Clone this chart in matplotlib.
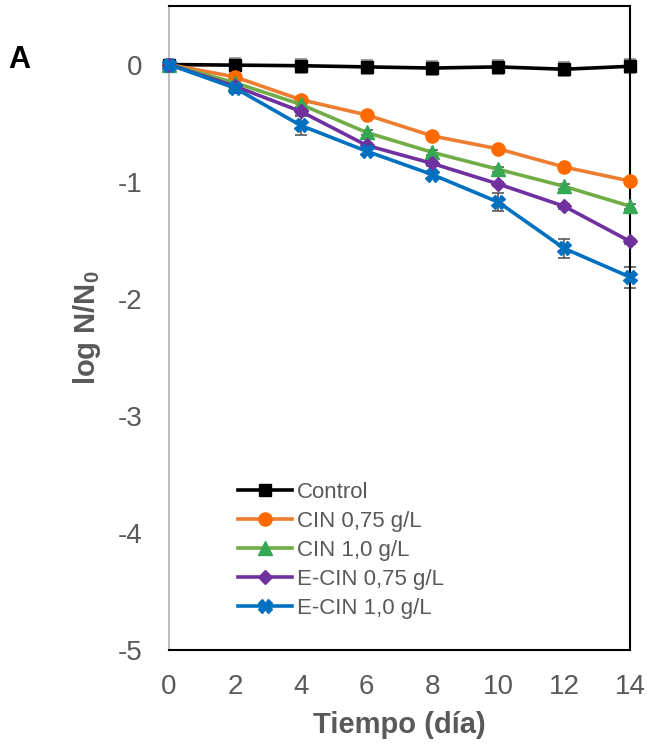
#! -*- coding: utf-8 -*-
import numpy as np
import matplotlib
matplotlib.use('Agg')
import matplotlib.pyplot as plt

#---------------------------------
# データ
#---------------------------------
dias = [0, 2, 4, 6, 8, 10, 12, 14]

control = [0, -0.005, -0.01, -0.02, -0.03, -0.02, -0.04, -0.015]
cin_075 = [0, -0.105, -0.30, -0.43, -0.61, -0.72, -0.875, -0.995]
cin_10 = [0, -0.155, -0.34, -0.58, -0.75, -0.895, -1.04, -1.21]
ecin_075 = [0, -0.185, -0.40, -0.69, -0.845, -1.02, -1.21, -1.51]
ecin_10 = [0, -0.20, -0.52, -0.74, -0.94, -1.175, -1.57, -1.815]

err_control = [0, 0.06, 0.06, 0.06, 0.06, 0.06, 0.06, 0.06]
err_cin_075 = [0, 0.02, 0.02, 0.02, 0.02, 0.02, 0.02, 0.02]
err_cin_10 = [0, 0.02, 0.02, 0.02, 0.02, 0.02, 0.02, 0.02]
err_ecin_075 = [0, 0.03, 0.03, 0.02, 0.02, 0.02, 0.02, 0.02]
err_ecin_10 = [0, 0.04, 0.08, 0.03, 0.03, 0.08, 0.08, 0.09]

etiquetas = ['Control', 'CIN 0,75 g/L', 'CIN 1,0 g/L', 'E-CIN 0,75 g/L', 'E-CIN 1,0 g/L']

#---------------------------------
# 設定
#---------------------------------
plt.rcParams['font.family'] = ['Liberation Sans', 'DejaVu Sans']
plt.rcParams['axes.unicode_minus'] = False
plt.rcParams['mathtext.fontset'] = 'custom'
plt.rcParams['mathtext.rm'] = 'Liberation Sans'
plt.rcParams['mathtext.bf'] = 'Liberation Sans:bold'

gris = '#595959'

fig = plt.figure(figsize=(6.48, 7.48), dpi=100)
ax = fig.add_axes([169 / 648, 1 - 650 / 748, 461 / 648, 644 / 748])

series = [
    (control, err_control, 'black', 'black', 's', 9),
    (cin_075, err_cin_075, '#ED7D31', '#FF6A00', 'o', 9.5),
    (cin_10, err_cin_10, '#70AD47', '#34A853', '^', 9.5),
    (ecin_075, err_ecin_075, '#7030A0', '#7030A0', 'D', 7.5),
    (ecin_10, err_ecin_10, '#0070C0', '#0070C0', 'X', 10),
]

for (vals, errs, c_line, c_mark, mk, ms), lab in zip(series, etiquetas):
    ax.errorbar(dias, vals, yerr=errs, fmt='none', ecolor='#8c8c8c' if lab == 'Control' else gris,
                elinewidth=1.2, capsize=4, capthick=1.2, zorder=2, clip_on=False)
    ax.plot(dias, vals, color=c_line, lw=2.6, marker=mk, markersize=ms,
            markerfacecolor=c_mark, markeredgecolor=c_mark, label=lab, zorder=3, clip_on=False)

ax.set_xlim(0, 14)
ax.set_ylim(-5, 0.5)
ax.set_xticks(dias)
ax.set_yticks([0, -1, -2, -3, -4, -5])
ax.tick_params(axis='both', length=0, labelsize=20, labelcolor=gris)
ax.tick_params(axis='x', pad=17)
ax.tick_params(axis='y', pad=19)

for s in ['top', 'right', 'bottom']:
    ax.spines[s].set_color('black')
    ax.spines[s].set_linewidth(1.5)
ax.spines['left'].set_color('#bfbfbf')
ax.spines['left'].set_linewidth(1.5)

ax.set_xlabel('Tiempo (día)', fontsize=21, fontweight='bold', color=gris, labelpad=8)
ax.set_ylabel(r'log N/N$_\mathbf{0}$', fontsize=21, fontweight='bold', color=gris, labelpad=11)

leg = ax.legend(loc='upper left', bbox_to_anchor=(0.13, 0.275), frameon=False, fontsize=16,
                handlelength=2.45, handletextpad=0.2, labelspacing=0.36, borderaxespad=0)
for t in leg.get_texts():
    t.set_color(gris)

fig.text(8 / 648, 1 - 68 / 748, 'A', fontsize=22, fontweight='bold', color='black', va='baseline')

plt.savefig('out.png', dpi=100)
plt.close()
